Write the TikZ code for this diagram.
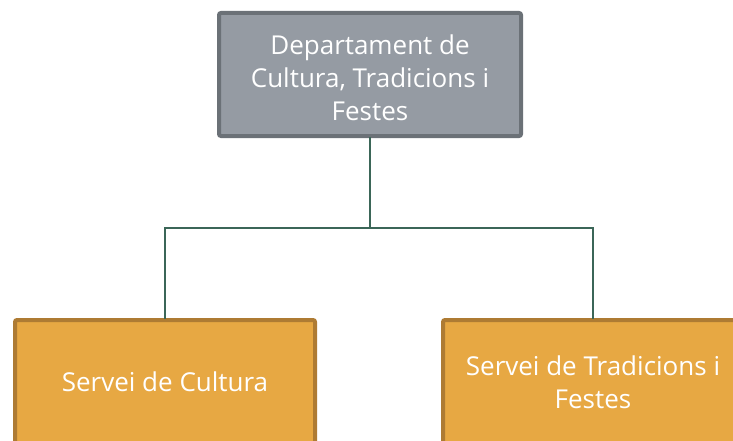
\documentclass[tikz,border=0pt]{standalone}
\usepackage{fontspec}
\setmainfont{Open Sans}
\definecolor{grayfill}{HTML}{959BA3}
\definecolor{grayline}{HTML}{6B7177}
\definecolor{orfill}{HTML}{E7A843}
\definecolor{orline}{HTML}{AE7B33}
\definecolor{conn}{HTML}{3B6658}
\begin{document}
\begin{tikzpicture}[x=1pt,y=-1pt,
  topbox/.style={draw=grayline, fill=grayfill, line width=4pt, rounded corners=2pt},
  subbox/.style={draw=orline, fill=orfill, line width=4pt, rounded corners=2pt},
  lbl/.style={text=white, align=center, font=\fontsize{26}{33}\selectfont, inner sep=0pt},
  connector/.style={draw=conn, line width=2pt}]
\useasboundingbox (0,0) rectangle (733,441);
\clip (0,0) rectangle (733,441);
\draw[topbox] (219,13) rectangle (521,136);
\draw[subbox] (15,320) rectangle (315,445);
\draw[subbox] (443,320) rectangle (743,445);
\node[lbl] (top) at (370,77.5) {Departament de\\Cultura, Tradicions i\\Festes};
\node[lbl] (cult) at (165,382) {Servei de Cultura};
\node[lbl] (trad) at (593,382) {Servei de Tradicions i\\Festes};
\coordinate (tb) at (370,137);
\coordinate (mid) at (370,228);
\coordinate (lb) at (165,319);
\coordinate (rb) at (593,319);
\draw[connector] (tb) -- (mid) -| (lb);
\draw[connector] (mid) -| (rb);
\end{tikzpicture}
\end{document}
